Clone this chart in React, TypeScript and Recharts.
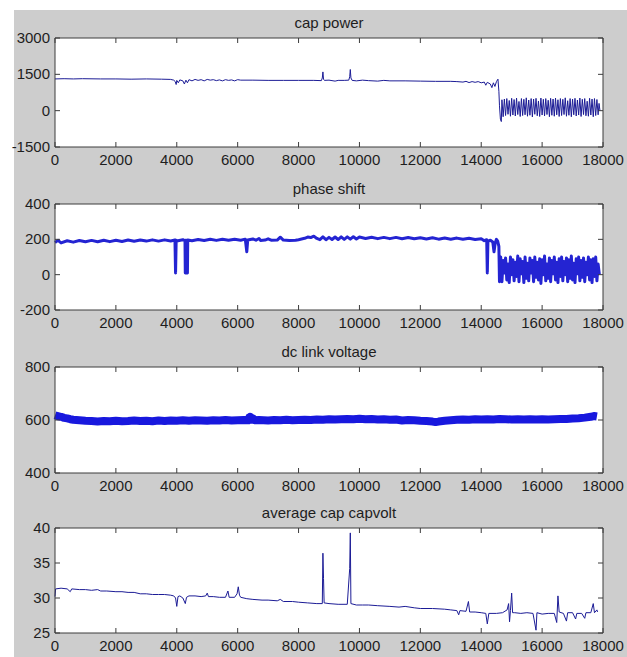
import React from "react";
import { LineChart, Line, XAxis, YAxis } from "recharts";

// x ticks shared by all four panels
const xTicks = [0, 2000, 4000, 6000, 8000, 10000, 12000, 14000, 16000, 18000];

const capPowerTicks = [-1500, 0, 1500, 3000];
const phaseTicks = [-200, 0, 200, 400];
const dcTicks = [400, 600, 800];
const capVoltTicks = [25, 30, 35, 40];

// [sample, value]
const capPower: [number, number][] = [
  [0, 1310], [300, 1320], [600, 1310], [900, 1320], [1500, 1310], [2000, 1310], [2500, 1300],
  [3000, 1310], [3500, 1300], [3800, 1290], [3900, 1260], [3950, 1200], [3980, 1080], [4000, 1250],
  [4050, 1150], [4100, 1270], [4200, 1230], [4250, 1100], [4300, 1260], [4350, 1150], [4400, 1280],
  [4500, 1230], [4600, 1290], [4700, 1250], [4800, 1280], [4900, 1230], [5000, 1290], [5100, 1260],
  [5200, 1280], [5300, 1240], [5400, 1270], [5500, 1230], [5600, 1280], [5700, 1250], [5800, 1270],
  [5900, 1230], [6000, 1280], [6100, 1260], [6500, 1260], [7000, 1250], [7500, 1250], [8000, 1250],
  [8500, 1250], [8750, 1240], [8780, 1350], [8800, 1600], [8820, 1300], [8850, 1250], [9000, 1260],
  [9200, 1220], [9300, 1250], [9500, 1250], [9650, 1260], [9680, 1400], [9700, 1700], [9720, 1350],
  [9760, 1250], [9900, 1230], [10100, 1260], [10300, 1240], [10600, 1220], [10800, 1250], [11000, 1230],
  [11500, 1230], [12000, 1220], [12500, 1210], [13000, 1210], [13200, 1200], [13400, 1180], [13500, 1210],
  [13600, 1160], [13700, 1200], [13800, 1170], [13900, 1200], [14000, 1150], [14100, 1180], [14150, 1050],
  [14200, 1170], [14300, 1100], [14350, 950], [14400, 1150], [14450, 1000], [14500, 1200], [14550, 1300],
  [14580, 800], [14600, 200], [14630, -350], [14660, -450],
  [14680, 450], [14720, -250], [14760, 480], [14800, -200], [14840, 500], [14880, -150], [14920, 420],
  [14960, -230], [15000, 510], [15040, -180], [15080, 460], [15120, -220], [15160, 520], [15200, -160],
  [15240, 380], [15280, -240], [15320, 500], [15360, -200], [15400, 470], [15440, -170], [15480, 530],
  [15520, -230], [15560, 440], [15600, -190], [15640, 500], [15680, -260], [15720, 480], [15760, -150],
  [15800, 510], [15840, -210], [15880, 400], [15920, -240], [15960, 520], [16000, -180], [16040, 470],
  [16080, -220], [16120, 500], [16160, -160], [16200, 430], [16240, -250], [16280, 510], [16320, -190],
  [16360, 480], [16400, -230], [16440, 520], [16480, -170], [16520, 450], [16560, -240], [16600, 500],
  [16640, -200], [16680, 470], [16720, -160], [16760, 530], [16800, -230], [16840, 410], [16880, -190],
  [16920, 500], [16960, -250], [17000, 480], [17040, -170], [17080, 510], [17120, -220], [17160, 440],
  [17200, -180], [17240, 520], [17280, -240], [17320, 470], [17360, -160], [17400, 500], [17440, -210],
  [17480, 390], [17520, -230], [17560, 510], [17600, -180], [17640, 480], [17680, -250], [17720, 500],
  [17760, -200], [17800, 460], [17840, -170], [17870, 300], [17900, 0],
];

const phaseShift: [number, number][] = [
  [0, 182], [100, 194], [200, 180], [400, 192], [600, 184], [800, 193], [1000, 186], [1200, 194],
  [1400, 186], [1600, 195], [1800, 187], [2000, 195], [2200, 188], [2400, 196], [2600, 189], [2800, 196],
  [3000, 190], [3200, 197], [3400, 190], [3600, 197], [3800, 191], [3940, 196], [3960, 10], [3980, 195],
  [4000, 191], [4200, 198], [4270, 192], [4280, 10], [4290, 195], [4340, 192], [4350, 10], [4360, 196],
  [4500, 192], [4700, 199], [4900, 193], [5100, 200], [5300, 194], [5500, 200], [5700, 195], [5900, 201],
  [6100, 195], [6250, 201], [6300, 130], [6330, 196], [6500, 202], [6600, 195], [6700, 205], [6750, 194],
  [6900, 196], [7000, 203], [7100, 195], [7300, 196], [7400, 212], [7500, 196], [7700, 194], [7900, 195],
  [8000, 198], [8200, 206], [8300, 213], [8400, 210], [8500, 218], [8600, 205], [8700, 198], [8800, 214],
  [8900, 198], [9000, 211], [9100, 199], [9200, 213], [9300, 199], [9400, 214], [9500, 200], [9600, 214],
  [9700, 201], [9800, 215], [9900, 202], [10000, 213], [10200, 205], [10400, 212], [10600, 204],
  [10800, 211], [11000, 204], [11200, 211], [11400, 203], [11600, 210], [11800, 203], [12000, 209],
  [12200, 202], [12400, 209], [12600, 201], [12800, 208], [13000, 201], [13200, 207], [13400, 200],
  [13600, 206], [13800, 199], [14000, 203], [14100, 192], [14180, 198], [14200, 10], [14220, 190],
  [14300, 195], [14380, 185], [14420, 130], [14460, 180], [14500, 200], [14540, 190], [14580, 160],
  [14600, -40], [14640, 100], [14680, -40], [14720, 80], [14760, 10], [14800, 95], [14840, -30],
  [14880, 60], [14920, -45], [14960, 100], [15000, 0], [15040, 85], [15080, -35], [15120, 70],
  [15160, -10], [15200, 105], [15240, -40], [15280, 90], [15320, 5], [15360, 75], [15400, -45],
  [15440, 100], [15480, -20], [15520, 65], [15560, -35], [15600, 95], [15640, 10], [15680, 80],
  [15720, -40], [15760, 100], [15800, -15], [15840, 70], [15880, -30], [15920, 90], [15960, -50],
  [16000, 85], [16040, 0], [16080, 105], [16120, -35], [16160, 60], [16200, -20], [16240, 95],
  [16280, -40], [16320, 80], [16360, 5], [16400, 100], [16440, -30], [16480, 70], [16520, -45],
  [16560, 90], [16600, -10], [16640, 100], [16680, -35], [16720, 75], [16760, 0], [16800, 95],
  [16840, -40], [16880, 85], [16920, -20], [16960, 105], [17000, -30], [17040, 65], [17080, -45],
  [17120, 90], [17160, 5], [17200, 100], [17240, -35], [17280, 80], [17320, -15], [17360, 95],
  [17400, -40], [17440, 70], [17480, 0], [17520, 100], [17560, -30], [17600, 85], [17640, -45],
  [17680, 90], [17720, -10], [17760, 100], [17800, -35], [17840, 60], [17880, 0],
];

const dcLink: [number, number][] = [
  [0, 618], [100, 614], [200, 612], [300, 608], [400, 606], [500, 603], [600, 601], [800, 599],
  [1000, 597], [1200, 596], [1400, 594], [1600, 596], [1800, 595], [2000, 597], [2200, 595], [2400, 596],
  [2600, 598], [2800, 596], [3000, 597], [3200, 595], [3400, 598], [3600, 596], [3800, 598], [4000, 597],
  [4200, 599], [4400, 597], [4600, 599], [4800, 598], [5000, 597], [5200, 599], [5400, 598], [5600, 600],
  [5800, 598], [6000, 599], [6200, 600], [6350, 599], [6380, 610], [6400, 603], [6420, 612], [6450, 601],
  [6500, 606], [6550, 599], [6700, 600], [7000, 598], [7200, 600], [7400, 599], [7600, 601], [7800, 599],
  [8000, 600], [8200, 601], [8400, 600], [8600, 602], [8800, 601], [9000, 603], [9200, 602], [9400, 603],
  [9600, 604], [9800, 603], [10000, 605], [10200, 603], [10400, 604], [10600, 602], [10800, 603],
  [11000, 601], [11200, 602], [11400, 598], [11600, 600], [11800, 599], [12000, 597], [12200, 596],
  [12400, 594], [12500, 592], [12600, 594], [12800, 597], [13000, 599], [13200, 601], [13400, 602],
  [13600, 601], [13800, 603], [14000, 602], [14200, 603], [14400, 602], [14600, 604], [14800, 603],
  [15000, 602], [15200, 603], [15400, 602], [15600, 603], [15800, 602], [16000, 603], [16200, 602],
  [16400, 603], [16600, 604], [16800, 604], [17000, 606], [17200, 607], [17400, 609], [17600, 612],
  [17700, 615], [17800, 613],
];

const capVolt: [number, number][] = [
  [0, 30.2], [20, 31.3], [200, 31.4], [400, 31.3], [500, 30.9], [550, 31.3], [800, 31.2], [1000, 31.2],
  [1200, 31.1], [1400, 31.2], [1500, 31.0], [1700, 31.0], [2000, 30.9], [2200, 30.9], [2400, 30.8],
  [2600, 30.8], [2800, 30.6], [3000, 30.6], [3200, 30.5], [3400, 30.5], [3600, 30.5], [3800, 30.4],
  [3900, 30.3], [3960, 30.0], [4000, 28.8], [4040, 30.2], [4100, 30.3], [4200, 30.0], [4280, 29.2],
  [4320, 30.1], [4400, 30.3], [4600, 30.3], [4800, 30.2], [4950, 30.3], [5000, 30.7], [5040, 30.2],
  [5200, 30.2], [5400, 30.1], [5600, 30.1], [5680, 31.0], [5720, 30.1], [5900, 30.1], [5980, 30.6],
  [6020, 31.6], [6060, 30.4], [6100, 30.1], [6300, 29.9], [6500, 29.8], [6800, 29.7], [7000, 29.7],
  [7300, 29.6], [7400, 29.8], [7500, 29.5], [7800, 29.5], [8000, 29.4], [8300, 29.3], [8600, 29.2],
  [8780, 29.2], [8800, 36.4], [8820, 32.8], [8840, 29.3], [9000, 29.2], [9300, 29.1], [9600, 29.1],
  [9680, 34.2], [9700, 39.3], [9720, 29.2], [9900, 29.0], [10100, 29.0], [10300, 29.0], [10600, 28.9],
  [11000, 28.8], [11300, 28.7], [11500, 28.8], [11800, 28.6], [12000, 28.5], [12400, 28.5], [12800, 28.4],
  [13000, 28.3], [13200, 28.2], [13260, 27.6], [13300, 28.2], [13500, 28.1], [13580, 29.5], [13620, 28.0],
  [13800, 28.0], [14000, 27.9], [14150, 27.8], [14200, 26.3], [14250, 27.8], [14500, 27.8], [14700, 27.9],
  [14850, 28.3], [14900, 29.2], [14930, 26.6], [14960, 28.2], [15000, 30.7], [15030, 27.9], [15100, 27.9],
  [15300, 27.8], [15500, 27.9], [15700, 27.8], [15800, 25.4], [15830, 27.9], [16000, 27.7], [16200, 27.8],
  [16400, 27.8], [16480, 26.5], [16520, 30.3], [16560, 28.0], [16700, 27.8], [16800, 26.7], [16840, 27.9],
  [17000, 27.9], [17100, 27.0], [17140, 27.8], [17300, 27.8], [17400, 27.1], [17440, 27.9], [17600, 27.9],
  [17680, 29.2], [17720, 27.9], [17800, 28.3], [17820, 28.0],
];

const FONT = '"Liberation Sans", Arial, sans-serif';
const TXT = "#1e1e1e";
const BORDER = "#3c3c3c";
const TICK_LEN = 5;

function BottomTick(props: any) {
  const { x, y, payload } = props;
  return (
    <g>
      <line x1={x} y1={y} x2={x} y2={y - TICK_LEN} stroke={BORDER} />
      <text x={x} y={y + 18} textAnchor="middle" fontSize={15} fontFamily={FONT} fill={TXT}>
        {payload.value}
      </text>
    </g>
  );
}

function TopTick(props: any) {
  const { x, y } = props;
  return <line x1={x} y1={y} x2={x} y2={y + TICK_LEN} stroke={BORDER} />;
}

function LeftTick(props: any) {
  const { x, y, payload } = props;
  return (
    <g>
      <line x1={x} y1={y} x2={x + TICK_LEN} y2={y} stroke={BORDER} />
      <text x={x - 5} y={y + 5} textAnchor="end" fontSize={15} fontFamily={FONT} fill={TXT}>
        {payload.value}
      </text>
    </g>
  );
}

function RightTick(props: any) {
  const { x, y } = props;
  return <line x1={x} y1={y} x2={x - TICK_LEN} y2={y} stroke={BORDER} />;
}

interface PanelProps {
  title: string;
  points: [number, number][];
  yTicks: number[];
  top: number;
  plotHeight: number;
  color: string;
  strokeWidth: number;
}

const TOP_PAD = 28;
const BOTTOM_PAD = 22;

function Panel({ title, points, yTicks, top, plotHeight, color, strokeWidth }: PanelProps) {
  const data = points.map(([x, y]) => ({ x, y }));
  const height = TOP_PAD + plotHeight + BOTTOM_PAD;
  const yDomain = [yTicks[0], yTicks[yTicks.length - 1]];
  return (
    <div style={{ position: "absolute", left: 0, top: top - TOP_PAD, width: 627, height }}>
      <div
        style={{
          position: "absolute",
          left: 55,
          width: 548,
          top: 4,
          textAlign: "center",
          fontFamily: FONT,
          fontSize: 15,
          lineHeight: "17px",
          color: TXT,
        }}
      >
        {title}
      </div>
      <LineChart
        width={627}
        height={height}
        data={data}
        margin={{ top: TOP_PAD - 1, right: 23, bottom: BOTTOM_PAD - 1, left: 0 }}
      >
        <rect x={55} y={TOP_PAD} width={548} height={plotHeight} fill="#ffffff" />
        <XAxis
          xAxisId="b"
          dataKey="x"
          type="number"
          domain={[0, 18000]}
          ticks={xTicks}
          interval={0}
          height={1}
          tickSize={0}
          tickMargin={0}
          tick={BottomTick}
          axisLine={{ stroke: BORDER }}
        />
        <XAxis
          xAxisId="t"
          orientation="top"
          dataKey="x"
          type="number"
          domain={[0, 18000]}
          ticks={xTicks}
          interval={0}
          height={1}
          tickSize={0}
          tickMargin={0}
          tick={TopTick}
          axisLine={{ stroke: BORDER }}
        />
        <YAxis
          yAxisId="l"
          type="number"
          domain={yDomain}
          ticks={yTicks}
          interval={0}
          width={55}
          tickSize={0}
          tickMargin={0}
          tick={LeftTick}
          allowDataOverflow
          axisLine={{ stroke: BORDER }}
        />
        <YAxis
          yAxisId="r"
          orientation="right"
          type="number"
          domain={yDomain}
          ticks={yTicks}
          interval={0}
          width={1}
          tickSize={0}
          tickMargin={0}
          tick={RightTick}
          allowDataOverflow
          axisLine={{ stroke: BORDER }}
        />
        <Line
          xAxisId="b"
          yAxisId="l"
          type="linear"
          dataKey="y"
          stroke={color}
          strokeWidth={strokeWidth}
          strokeLinejoin="round"
          dot={false}
          activeDot={false}
          isAnimationActive={false}
        />
      </LineChart>
    </div>
  );
}

export default function App() {
  return (
    <div style={{ position: "absolute", left: 0, top: 0, width: 627, height: 657, background: "#ffffff", overflow: "hidden" }}>
      <div style={{ position: "absolute", left: 14, top: 10, width: 613, height: 647, background: "#cdcdcd" }} />
      <Panel title="cap power" points={capPower} yTicks={capPowerTicks} top={38} plotHeight={109} color="#1c1c96" strokeWidth={1} />
      <Panel title="phase shift" points={phaseShift} yTicks={phaseTicks} top={204} plotHeight={106} color="#2424d2" strokeWidth={3} />
      <Panel title="dc link voltage" points={dcLink} yTicks={dcTicks} top={367} plotHeight={106} color="#1818de" strokeWidth={8} />
      <Panel title="average cap capvolt" points={capVolt} yTicks={capVoltTicks} top={528} plotHeight={105} color="#1c1c96" strokeWidth={1} />
    </div>
  );
}
